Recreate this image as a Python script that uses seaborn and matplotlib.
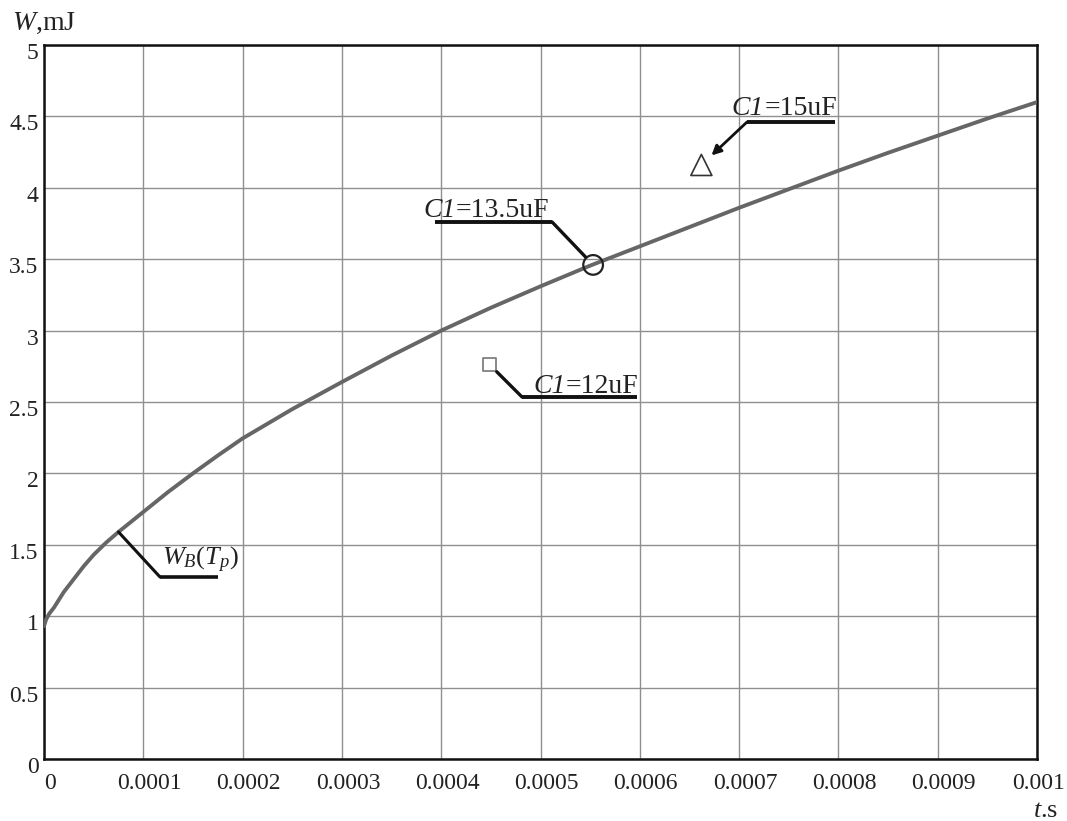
import matplotlib
matplotlib.use("Agg")
import matplotlib.pyplot as plt
import matplotlib.transforms as mtransforms
import seaborn as sns
import pandas as pd

# ---- data ----
t_curve = [0.0, 0.000002, 0.000005, 0.00001, 0.00002, 0.00003, 0.00004, 0.00005,
           0.0000625, 0.000075, 0.0000875, 0.0001, 0.000125, 0.00015, 0.000175,
           0.0002, 0.00025, 0.0003, 0.00035, 0.0004, 0.00045, 0.0005, 0.00055,
           0.0006, 0.00065, 0.0007, 0.00075, 0.0008, 0.00085, 0.0009, 0.00095, 0.001]
w_curve = [0.93, 0.975, 1.015, 1.06, 1.17, 1.26, 1.35, 1.43,
           1.515, 1.59, 1.66, 1.73, 1.87, 2.00, 2.125,
           2.245, 2.45, 2.64, 2.825, 3.00, 3.16, 3.31, 3.455,
           3.59, 3.725, 3.86, 3.99, 4.12, 4.245, 4.365, 4.485, 4.60]
pt_names = ["C1", "C1", "C1"]
pt_values = ["=12uF", "=13.5uF", "=15uF"]
pt_t = [0.000449, 0.000553, 0.000662]
pt_w = [2.76, 3.46, 4.16]
x_ticks = [0, 0.0001, 0.0002, 0.0003, 0.0004, 0.0005, 0.0006, 0.0007, 0.0008, 0.0009, 0.001]
x_ticklabels = ["0", "0.0001", "0.0002", "0.0003", "0.0004", "0.0005", "0.0006",
                "0.0007", "0.0008", "0.0009", "0.001"]
y_ticks = [0, 0.5, 1, 1.5, 2, 2.5, 3, 3.5, 4, 4.5, 5]
y_ticklabels = ["0", "0.5", "1", "1.5", "2", "2.5", "3", "3.5", "4", "4.5", "5"]
curve_label = "$W_B(T_p)$"
curve_label_index = 9  # point on the curve the label refers to

sns.set_theme(style="white")
plt.rcParams["font.family"] = ["Liberation Serif", "DejaVu Serif"]
plt.rcParams["mathtext.fontset"] = "custom"
plt.rcParams["mathtext.rm"] = "Liberation Serif"
plt.rcParams["mathtext.it"] = "Liberation Serif:italic"
plt.rcParams["mathtext.bf"] = "Liberation Serif:bold"

fig = plt.figure(figsize=(10.67, 8.21), dpi=100)
ax = fig.add_axes([44 / 1067, 62 / 821, 993 / 1067, 714 / 821])

df = pd.DataFrame({"t": t_curve, "W": w_curve})
sns.lineplot(data=df, x="t", y="W", ax=ax, color="#666666", lw=2.8, zorder=3)

# markers
marker_styles = [("s", 90, "#808080", 1.3), ("o", 200, "#222222", 1.6), ("^", 230, "#333333", 1.2)]
for (m, s, c, lw), tx, wy in zip(marker_styles, pt_t, pt_w):
    sns.scatterplot(x=[tx], y=[wy], ax=ax, marker=m, s=s, facecolor="none",
                    edgecolor=c, linewidth=lw, zorder=4)

ax.set_xlim(0, 0.001)
ax.set_ylim(0, 5)
ax.set_xticks(x_ticks)
ax.set_xticklabels(x_ticklabels)
ax.set_yticks(y_ticks)
ax.set_yticklabels(y_ticklabels)
ax.tick_params(axis="both", length=0, labelsize=17, colors="#222222")
ax.tick_params(axis="x", pad=10)
ax.tick_params(axis="y", pad=4)
xl = ax.get_xticklabels()
for i, lab in enumerate(xl):
    dx = 6 if i < len(xl) - 1 else 2
    lab.set_transform(lab.get_transform() + mtransforms.ScaledTranslation(dx / 100, 0, fig.dpi_scale_trans))
for lab in ax.get_yticklabels():
    lab.set_transform(lab.get_transform() + mtransforms.ScaledTranslation(0, -6 / 100, fig.dpi_scale_trans))
ax.set_xlabel("")
ax.set_ylabel("")
ax.grid(True, color="#8f8f8f", lw=1.0)
for sp in ax.spines.values():
    sp.set_color("#111111")
    sp.set_linewidth(1.8)

# axis titles
fig.text(12 / 1067, 1 - 30 / 821, "$W$,mJ", fontsize=20, color="#222222", va="baseline", ha="left")
fig.text(1058 / 1067, 1 - 817 / 821, "$t$.s", fontsize=19, color="#222222", va="baseline", ha="right")

# annotations: (text x, text baseline y, underline x0, x1, underline y, connect at left?, arrow?, shrink)
ann = [
    (0.0004924, 2.563, 0.0004814, 0.0005972, 2.535, True, False, 7),
    (0.0003817, 3.795, 0.0003937, 0.0005116, 3.761, False, False, 8),
    (0.0006928, 4.510, 0.0007080, 0.0007966, 4.461, True, True, 10),
]
for (tx, ty, u0, u1, uy, left, arrow, shr), nm, val, px, py in zip(ann, pt_names, pt_values, pt_t, pt_w):
    t1 = ax.text(tx, ty, nm, fontsize=20, style="italic", color="#222222",
                 va="baseline", ha="left", zorder=5)
    ax.annotate(val, xy=(1, 0), xycoords=t1, fontsize=20, color="#222222",
                va="bottom", ha="left", zorder=5)
    ax.plot([u0, u1], [uy, uy], color="#111111", lw=2.8, solid_capstyle="butt", zorder=5)
    start = (u0 if left else u1, uy)
    ax.annotate("", xy=(px, py), xytext=start,
                arrowprops=dict(arrowstyle="-|>" if arrow else "-", color="#111111",
                                lw=2.0 if arrow else 2.4, shrinkA=0, shrinkB=shr,
                                mutation_scale=14), zorder=5)

# curve label
cx, cy = t_curve[curve_label_index], w_curve[curve_label_index]
ax.text(0.0001188, 1.359, curve_label, fontsize=19, color="#222222", va="baseline", ha="left", zorder=5)
ax.plot([0.0001168, 0.0001752], [1.2745, 1.2745], color="#111111", lw=2.6, solid_capstyle="butt", zorder=5)
ax.annotate("", xy=(cx, cy), xytext=(0.0001168, 1.2745),
            arrowprops=dict(arrowstyle="-", color="#111111", lw=2.2, shrinkA=0, shrinkB=0), zorder=5)

fig.savefig("out.png", dpi=100, facecolor="white")
